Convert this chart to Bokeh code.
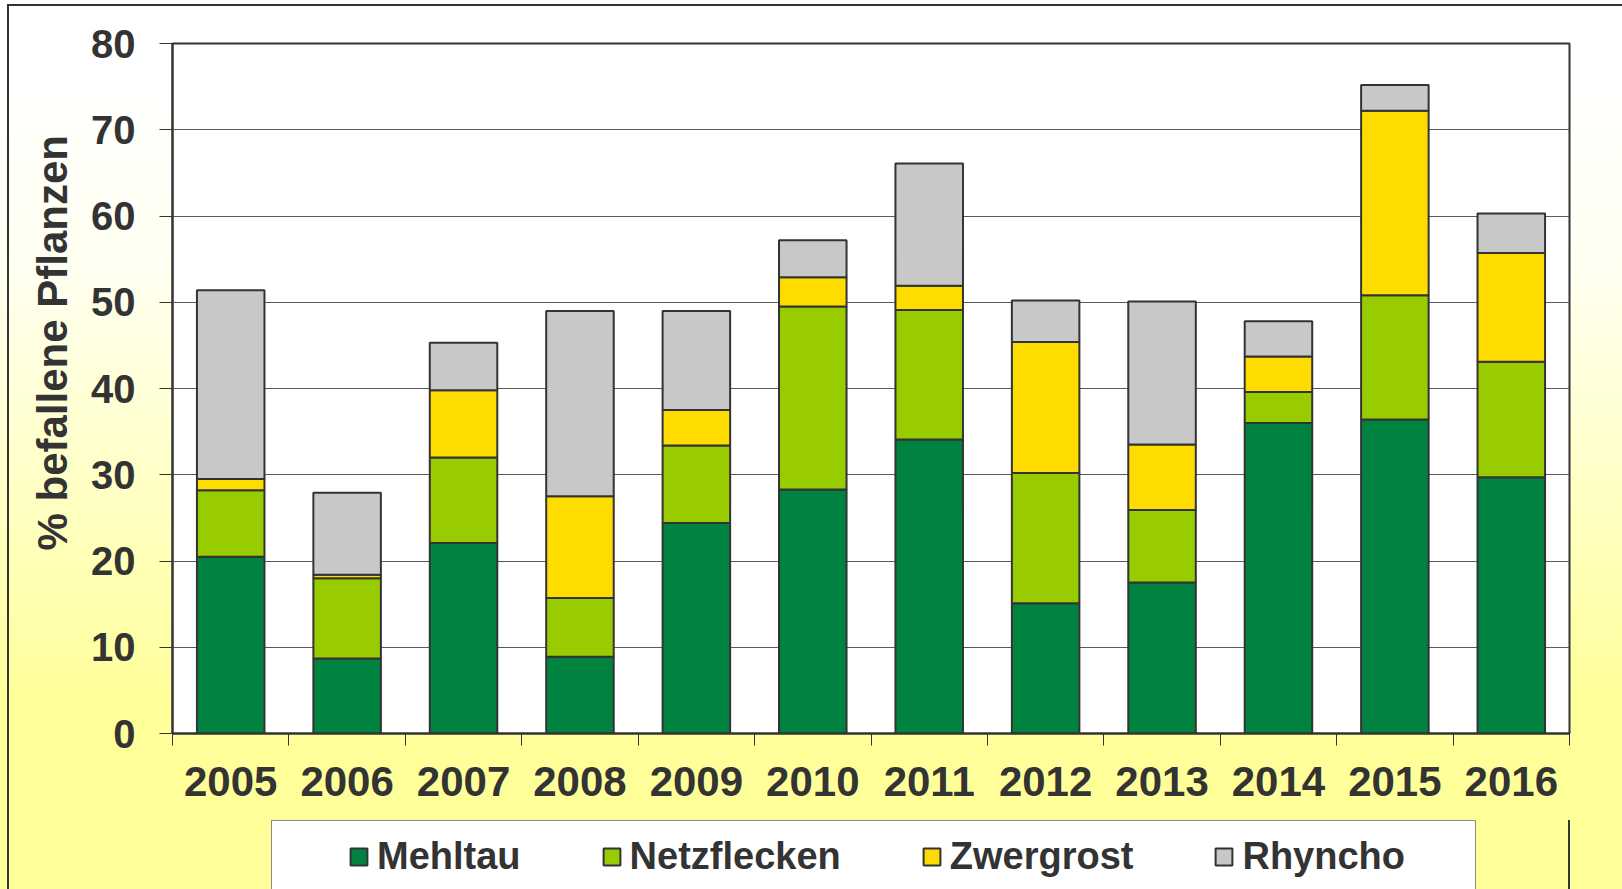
from bokeh.plotting import figure
from bokeh.models import Range1d, FixedTicker, ColumnDataSource, Legend, LegendItem, Title
from bokeh.layouts import column
from bokeh.embed import file_html
from bokeh.resources import INLINE

years = [2005, 2006, 2007, 2008, 2009, 2010, 2011, 2012, 2013, 2014, 2015, 2016]
mehltau = [20.5, 8.7, 22.1, 8.9, 24.4, 28.3, 34.1, 15.1, 17.5, 36.0, 36.4, 29.7]
netzflecken = [7.7, 9.3, 9.9, 6.8, 9.0, 21.2, 15.0, 15.1, 8.4, 3.6, 14.4, 13.4]
zwergrost = [1.3, 0.4, 7.8, 11.8, 4.1, 3.4, 2.8, 15.2, 7.6, 4.1, 21.4, 12.6]
rhyncho = [21.9, 9.5, 5.5, 21.5, 11.5, 4.3, 14.2, 4.8, 16.6, 4.1, 3.0, 4.6]
series_names = ["Mehltau", "Netzflecken", "Zwergrost", "Rhyncho"]
colors = ["#008241", "#99CC00", "#FFDC00", "#C8C8C8"]
y_ticks = list(range(0, 81, 10))
y_label = "% befallene Pflanzen"

FONT = "Liberation Sans"
TXT = "#333333"

source = ColumnDataSource(dict(year=years, Mehltau=mehltau, Netzflecken=netzflecken,
                               Zwergrost=zwergrost, Rhyncho=rhyncho))

# ---------------- main chart ----------------
p = figure(frame_width=1397, frame_height=690,
           output_backend="svg", toolbar_location=None,
           x_range=Range1d(years[0] - 0.5, years[-1] + 0.5), y_range=Range1d(0, 80),
           min_border_left=172, min_border_right=53, min_border_top=43,
           min_border_bottom=87)

p.border_fill_color = None
p.background_fill_color = "white"
p.outline_line_color = "#333333"
p.outline_line_width = 2

p.vbar_stack(series_names, x="year", width=0.58, color=colors,
             line_color="#333333", line_width=2, source=source)

p.xgrid.grid_line_color = None
p.ygrid.grid_line_color = "#5a5a5a"
p.ygrid.grid_line_width = 1
p.ygrid.ticker = FixedTicker(ticks=y_ticks)

ya = p.yaxis[0]
ya.ticker = FixedTicker(ticks=y_ticks, minor_ticks=[])
ya.axis_line_color = "#333333"
ya.axis_line_width = 2
ya.major_tick_in = 0
ya.major_tick_out = 13
ya.major_tick_line_color = "#333333"
ya.minor_tick_line_color = None
ya.major_label_standoff = 24
ya.major_label_text_font = FONT
ya.major_label_text_font_style = "bold"
ya.major_label_text_font_size = "40px"
ya.major_label_text_color = TXT

yt = Title(text=y_label, align="left", offset=183, vertical_align="middle",
           text_font=FONT, text_font_style="bold", text_font_size="42px",
           text_color=TXT, standoff=24)
p.add_layout(yt, "left")

xa = p.xaxis[0]
xa.ticker = FixedTicker(ticks=years, minor_ticks=[y - 0.5 for y in years] + [years[-1] + 0.5])
xa.axis_line_color = "#333333"
xa.axis_line_width = 2
xa.major_tick_line_color = None
xa.major_tick_in = 0
xa.major_tick_out = 0
xa.minor_tick_in = 0
xa.minor_tick_out = 12
xa.minor_tick_line_color = "#333333"
xa.major_label_standoff = 21
xa.major_label_text_font = FONT
xa.major_label_text_font_style = "bold"
xa.major_label_text_font_size = "42px"
xa.major_label_text_color = TXT

# ---------------- legend strip (same horizontal frame as the chart) ----------------
q = figure(frame_width=1397, frame_height=90,
           output_backend="svg", toolbar_location=None,
           x_range=Range1d(0, 1), y_range=Range1d(0, 1),
           min_border_left=172, min_border_right=53, min_border_top=0,
           min_border_bottom=0, x_axis_location=None, y_axis_location=None)
q.border_fill_color = None
q.background_fill_color = None
q.outline_line_color = None
q.grid.visible = False

# same series, outside this strip's visible range: used only as legend keys
keys = q.vbar_stack(series_names, x="year", width=0.58, color=colors,
                    line_color="#333333", line_width=2, source=source)

items = [LegendItem(label=n, renderers=[r]) for n, r in zip(series_names, keys)]
lg = Legend(items=items, orientation="horizontal", location=(176, 29),
            padding=0, margin=0, spacing=80, glyph_width=21, glyph_height=21,
            label_height=50, label_standoff=8, border_line_color=None,
            background_fill_color=None, label_text_font=FONT,
            label_text_font_style="bold", label_text_font_size="38px",
            label_text_color=TXT)
q.add_layout(lg, "center")

layout = column(p, q, spacing=0, styles={
    "background": (
        "linear-gradient(#333,#333) 7px 4px / 2px 100% no-repeat, "
        "linear-gradient(#333,#333) 7px 4px / 100% 2px no-repeat, "
        "linear-gradient(#fff,#fff) 272px 821px / 1203px 100px no-repeat, "
        "linear-gradient(#8a8a8a,#8a8a8a) 271px 820px / 1205px 100px no-repeat, "
        "linear-gradient(to bottom, #ffffff 8%, #fffff0 30%, #ffff99 78%)"
    )
})

open("out.html", "w").write(file_html(layout, INLINE))
